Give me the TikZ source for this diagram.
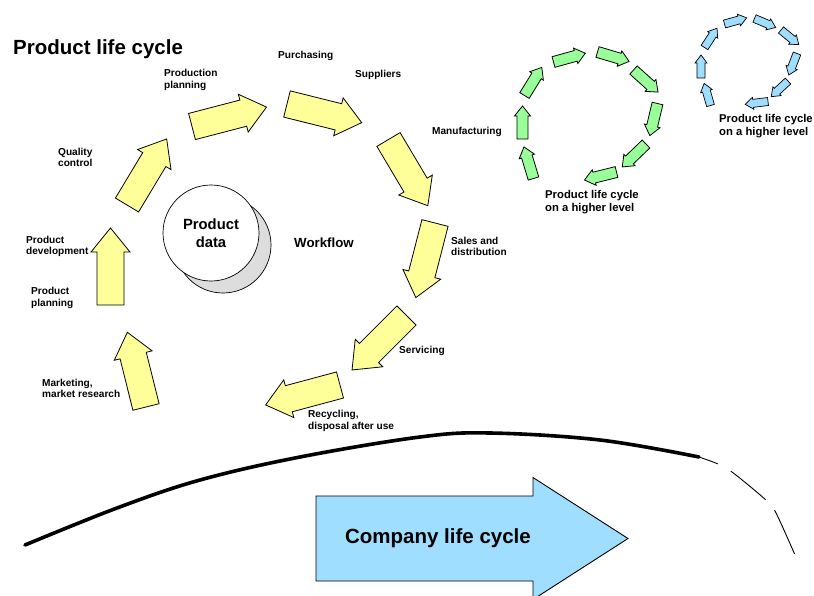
\documentclass[tikz,border=0pt]{standalone}
\usepackage{fontspec}
\setmainfont{Liberation Sans}
\definecolor{yfill}{RGB}{255,255,153}
\definecolor{gfill}{RGB}{153,255,153}
\definecolor{bfill}{RGB}{160,222,255}
\definecolor{cgray}{RGB}{221,221,221}
\tikzset{
  pics/blockarrow/.style n args={4}{% length, shaft half width, head half width, head length
    code={
      \coordinate (-tail) at (0,0);
      \coordinate (-tip) at (#1,0);
      \path[pic actions, line join=miter] (0,-#2) -- ({#1-#4},-#2) -- ({#1-#4},-#3) -- (#1,0)
        -- ({#1-#4},#3) -- ({#1-#4},#2) -- (0,#2) -- cycle;
    }},
  yarr/.style={draw=black, line width=0.8pt, fill=yfill},
  garr/.style={draw=black, line width=0.8pt, fill=gfill},
  barr/.style={draw=black, line width=0.7pt, fill=bfill},
  lbl/.style={font=\bfseries\fontsize{10.1}{11.3}\selectfont, align=left, anchor=west, inner sep=0pt},
  hlbl/.style={font=\bfseries\fontsize{11.3}{13}\selectfont, align=left, anchor=west, inner sep=0pt},
}
\begin{document}
\begin{tikzpicture}[x=1pt,y=-1pt]
\useasboundingbox (0,0) rectangle (814,595);
% title
\node[font=\bfseries\fontsize{20.5}{24}\selectfont, anchor=west, inner sep=0pt] (title) at (13,49) {Product life cycle};
% product data
\node[circle, draw=black, line width=0.7pt, fill=cgray, minimum size=96pt, inner sep=0pt] (pdshadow) at (223,245) {};
\node[circle, draw=black, line width=0.7pt, fill=white, minimum size=96pt, inner sep=0pt, align=center,
  font=\bfseries\fontsize{14.8}{18}\selectfont] (pdata) at (211,233) {Product\\data};
\node[font=\bfseries\fontsize{13.3}{16}\selectfont, anchor=west, inner sep=0pt] (workflow) at (294,243) {Workflow};
% yellow cycle
\pic (y1) [yarr, rotate=104] at (146,407) {blockarrow={77}{13.5}{19.5}{24}};
\pic (y2) [yarr, rotate=90] at (110.5,305) {blockarrow={77}{13.5}{19.5}{24}};
\pic (y3) [yarr, rotate=59] at (127,205) {blockarrow={77}{13.5}{19.5}{24}};
\pic (y4) [yarr, rotate=14.6] at (192,126.5) {blockarrow={77}{13.5}{19.5}{24}};
\pic (y5) [yarr, rotate=-14] at (287,104) {blockarrow={77}{13.5}{19.5}{24}};
\pic (y6) [yarr, rotate=-59.3] at (388.5,139.5) {blockarrow={77}{13.5}{19.5}{24}};
\pic (y7) [yarr, rotate=-104.4] at (435,223) {blockarrow={77}{13.5}{19.5}{24}};
\pic (y8) [yarr, rotate=-135] at (406.5,315.5) {blockarrow={77}{13.5}{19.5}{24}};
\pic (y9) [yarr, rotate=-165] at (340,385) {blockarrow={77}{13.5}{19.5}{24}};
% green cycle
\pic (g1) [garr, rotate=106.8] at (533.5,178.5) {blockarrow={33}{5.5}{8}{10}};
\pic (g2) [garr, rotate=90] at (522.5,139) {blockarrow={33}{5.5}{8}{10}};
\pic (g3) [garr, rotate=58.4] at (524.5,95.5) {blockarrow={33}{5.5}{8}{10}};
\pic (g4) [garr, rotate=15.5] at (553.5,62) {blockarrow={33}{5.5}{8}{10}};
\pic (g5) [garr, rotate=-16.6] at (597.5,52) {blockarrow={33}{5.5}{8}{10}};
\pic (g6) [garr, rotate=-42] at (633.5,70) {blockarrow={33}{5.5}{8}{10}};
\pic (g7) [garr, rotate=-103.4] at (657.5,103.5) {blockarrow={33}{5.5}{8}{10}};
\pic (g8) [garr, rotate=-136] at (646,144) {blockarrow={33}{5.5}{8}{10}};
\pic (g9) [garr, rotate=-166] at (616.5,172) {blockarrow={33}{5.5}{8}{10}};
% blue cycle
\pic (b1) [barr, rotate=106] at (710.5,105.5) {blockarrow={23}{4}{6}{8}};
\pic (b2) [barr, rotate=90] at (701,78) {blockarrow={23}{4}{6}{8}};
\pic (b3) [barr, rotate=57] at (704.5,47.5) {blockarrow={23}{4}{6}{8}};
\pic (b4) [barr, rotate=15.6] at (724.5,24) {blockarrow={23}{4}{6}{8}};
\pic (b5) [barr, rotate=-23] at (754.5,18.5) {blockarrow={23}{4}{6}{8}};
\pic (b6) [barr, rotate=-39.5] at (781,30) {blockarrow={23}{4}{6}{8}};
\pic (b7) [barr, rotate=-111] at (797,53.5) {blockarrow={23}{4}{6}{8}};
\pic (b8) [barr, rotate=-137] at (788,81) {blockarrow={23}{4}{6}{8}};
\pic (b9) [barr, rotate=-173] at (768,101.5) {blockarrow={23}{4}{6}{8}};
% labels
\node[lbl] (lpurch) at (278,56) {Purchasing};
\node[lbl] (lsupp) at (355,75) {Suppliers};
\node[lbl] (lprodplan) at (164,80) {Production\\planning};
\node[lbl] (lqual) at (58,157.5) {Quality\\control};
\node[lbl] (lproddev) at (26,246.5) {Product\\development};
\node[lbl] (lplan) at (31,298) {Product\\planning};
\node[lbl] (lmark) at (42,388.5) {Marketing,\\market research};
\node[lbl] (lmanu) at (432,132) {Manufacturing};
\node[lbl] (lsales) at (451,246.5) {Sales and\\distribution};
\node[lbl] (lserv) at (399,351) {Servicing};
\node[lbl] (lrecyc) at (308,421) {Recycling,\\disposal after use};
\node[hlbl] (lgreen) at (545,202.5) {Product life cycle\\on a higher level};
\node[hlbl] (lblue) at (719,126.5) {Product life cycle\\on a higher level};
% company life cycle curve
\draw[line width=3.6pt, line cap=round] plot[smooth, tension=0.6] coordinates
  {(25,545) (117,508) (200,480) (300,457) (420,437) (490,433) (600,440) (699,457)};
\draw[line width=0.9pt, dash pattern=on 20pt off 15pt on 45pt off 14pt on 48pt] plot[smooth, tension=0.6] coordinates
  {(699,457) (718,464) (732,472) (767,501) (776,513) (795,555)};
% company arrow
\pic (company) [draw=black, line width=0.9pt, fill=bfill] at (316,538.5) {blockarrow={312}{42.5}{61}{95}};
\node[font=\bfseries\fontsize{20.5}{24}\selectfont, inner sep=0pt] (lcompany) at (438,538) {Company life cycle};
\end{tikzpicture}
\end{document}
